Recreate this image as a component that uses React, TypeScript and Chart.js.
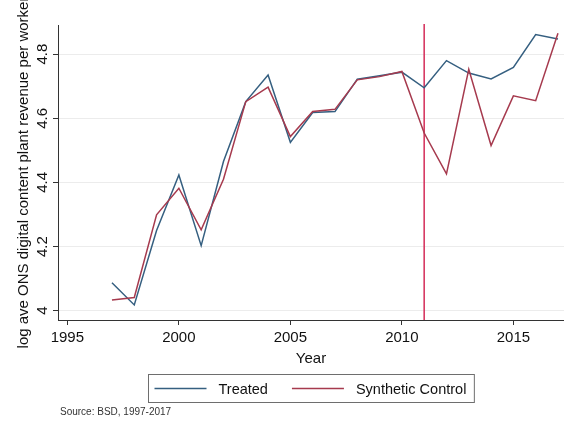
import { useEffect, useRef } from "react";
import { Chart, registerables } from "chart.js";

Chart.register(...registerables);

// Annual observations, 1997-2017
const YEARS = [
  1997, 1998, 1999, 2000, 2001, 2002, 2003, 2004, 2005, 2006, 2007,
  2008, 2009, 2010, 2011, 2012, 2013, 2014, 2015, 2016, 2017,
];
const TREATED = [
  4.087, 4.018, 4.25, 4.423, 4.203, 4.465, 4.652, 4.735, 4.525, 4.618, 4.621,
  4.722, 4.733, 4.744, 4.695, 4.78, 4.741, 4.723, 4.759, 4.861, 4.847,
];
const SYNTHETIC = [
  4.033, 4.041, 4.299, 4.382, 4.252, 4.41, 4.652, 4.697, 4.543, 4.621, 4.628,
  4.72, 4.73, 4.746, 4.554, 4.427, 4.753, 4.515, 4.67, 4.655, 4.865,
];
const SERIES_LABELS = ["Treated", "Synthetic Control"];
const X_TICKS = [1995, 2000, 2005, 2010, 2015];
const Y_TICKS = [4, 4.2, 4.4, 4.6, 4.8];
const TREATMENT_YEAR = 2011;
const X_TITLE = "Year";
const Y_TITLE = "log ave ONS digital content plant revenue per worker";
const SOURCE_NOTE = "Source: BSD, 1997-2017";

const FONT = "'Liberation Sans', Arial, Helvetica, sans-serif";
const BLUE = "#355f80";
const RED = "#a63a4e";
const XLINE = "#d42c58";
const AXIS = "#333333";
const GRID = "#ececec";

const overlay = {
  id: "overlay",
  beforeDatasetsDraw(chart: any) {
    const { ctx, chartArea, scales } = chart;
    const px = scales.x.getPixelForValue(TREATMENT_YEAR);
    ctx.save();
    ctx.strokeStyle = XLINE;
    ctx.lineWidth = 1.5;
    ctx.beginPath();
    ctx.moveTo(px, chartArea.top - 1);
    ctx.lineTo(px, chartArea.bottom);
    ctx.stroke();
    ctx.restore();
  },
  afterDraw(chart: any) {
    const { ctx, chartArea } = chart;
    ctx.save();

    // rotated y-axis title, centred on the plot region
    ctx.fillStyle = "#111";
    ctx.font = `15px ${FONT}`;
    ctx.textAlign = "center";
    ctx.textBaseline = "middle";
    ctx.translate(24, (chartArea.top + chartArea.bottom) / 2);
    ctx.rotate(-Math.PI / 2);
    ctx.fillText(Y_TITLE, 0, 0);
    ctx.setTransform(1, 0, 0, 1, 0, 0);

    // legend box below the axis
    ctx.font = `14.5px ${FONT}`;
    const sample = 52;
    const gapSample = 12;
    const gapItem = 24;
    const padX = 6;
    const widths = SERIES_LABELS.map((t) => ctx.measureText(t).width);
    const inner =
      widths.reduce((a, w) => a + sample + gapSample + w, 0) +
      gapItem * (SERIES_LABELS.length - 1);
    const boxW = inner + padX * 2 + 2;
    const cx = (chartArea.left + chartArea.right) / 2;
    const boxL = Math.round(cx - boxW / 2) + 0.5;
    const boxT = 374.5;
    const boxH = 28;
    ctx.strokeStyle = "#6e6e6e";
    ctx.lineWidth = 1;
    ctx.strokeRect(boxL, boxT, boxW, boxH);
    const midY = boxT + boxH / 2;
    let x = boxL + padX;
    chart.data.datasets.forEach((ds: any, i: number) => {
      ctx.strokeStyle = ds.borderColor;
      ctx.lineWidth = 1.5;
      ctx.beginPath();
      ctx.moveTo(x, midY);
      ctx.lineTo(x + sample, midY);
      ctx.stroke();
      x += sample + gapSample;
      ctx.fillStyle = "#111";
      ctx.textAlign = "left";
      ctx.fillText(ds.label, x, midY + 1);
      x += widths[i] + gapItem;
    });

    // source note
    ctx.font = `10px ${FONT}`;
    ctx.fillStyle = "#333";
    ctx.textAlign = "left";
    ctx.fillText(SOURCE_NOTE, 60, 412);
    ctx.restore();
  },
};

export default function App() {
  const canvasRef = useRef<HTMLCanvasElement | null>(null);

  useEffect(() => {
    const canvas = canvasRef.current;
    if (!canvas) return;
    const chart = new Chart(canvas, {
      type: "line",
      data: {
        datasets: [
          {
            label: SERIES_LABELS[0],
            data: YEARS.map((yr, i) => ({ x: yr, y: TREATED[i] })),
            borderColor: BLUE,
            backgroundColor: BLUE,
            borderWidth: 1.5,
            pointRadius: 0,
            tension: 0,
            order: 1,
          },
          {
            label: SERIES_LABELS[1],
            data: YEARS.map((yr, i) => ({ x: yr, y: SYNTHETIC[i] })),
            borderColor: RED,
            backgroundColor: RED,
            borderWidth: 1.5,
            pointRadius: 0,
            tension: 0,
            order: 0,
          },
        ],
      },
      options: {
        responsive: false,
        animation: false,
        layout: { padding: { top: 25, left: 0, right: 0, bottom: 57 } },
        plugins: {
          legend: { display: false },
          tooltip: { enabled: false },
          title: { display: false },
        },
        scales: {
          x: {
            type: "linear",
            min: 1994.58,
            max: 2017.27,
            afterBuildTicks: (scale: any) => {
              scale.ticks = X_TICKS.map((v) => ({ value: v }));
            },
            afterFit: (scale: any) => {
              scale.height = 48;
            },
            border: { display: true, color: AXIS, width: 1 },
            grid: {
              drawOnChartArea: false,
              drawTicks: true,
              tickLength: 5,
              tickColor: AXIS,
            },
            ticks: {
              color: "#111",
              font: { family: FONT, size: 15 },
              padding: 4,
              maxRotation: 0,
              callback: (v: any) => String(v),
            },
            title: {
              display: true,
              text: X_TITLE,
              color: "#111",
              font: { family: FONT, size: 15 },
              padding: { top: 0, bottom: 0 },
            },
          },
          y: {
            type: "linear",
            min: 3.971,
            max: 4.891,
            afterBuildTicks: (scale: any) => {
              scale.ticks = Y_TICKS.map((v) => ({ value: v }));
            },
            afterFit: (scale: any) => {
              scale.width = 58;
            },
            border: { display: true, color: AXIS, width: 1 },
            grid: {
              color: GRID,
              lineWidth: 1,
              drawTicks: true,
              tickLength: 5,
              tickColor: AXIS,
            },
            ticks: {
              color: "#111",
              font: { family: FONT, size: 15 },
              padding: 0,
              minRotation: 90,
              maxRotation: 90,
              crossAlign: "center",
              callback: (v: any) => String(v),
            },
          },
        },
      },
      plugins: [overlay],
    } as any);
    return () => chart.destroy();
  }, []);

  return (
    <div style={{ position: "absolute", left: 0, top: 0, width: 564, height: 425, background: "#fff" }}>
      <canvas ref={canvasRef} width={564} height={425} style={{ display: "block" }} />
    </div>
  );
}
